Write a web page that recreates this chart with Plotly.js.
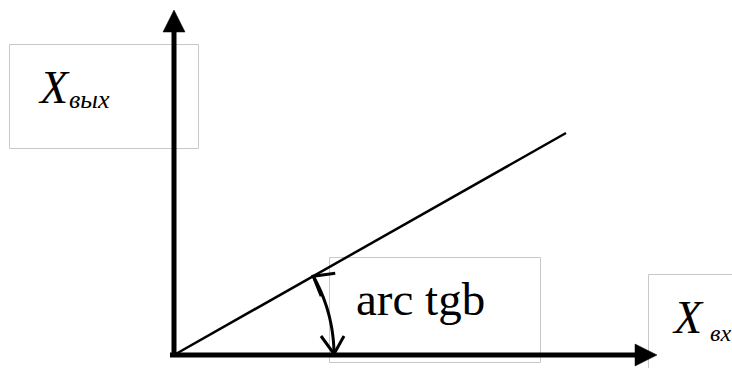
<!DOCTYPE html>
<html>
<head>
<meta charset="utf-8">
<script src="https://cdn.plot.ly/plotly-3.0.1.min.js"></script>
<style>html,body{margin:0;padding:0;background:#fff;}#chart{width:732px;height:368px;}</style>
</head>
<body>
<div id="chart"></div>
<script>
// Characteristic line X_вых = k * X_вх (schematic units)
var lineX = [0, 392];
var lineY = [0, 222];
// Axis extents (schematic units)
var axisXEnd = [483];
var axisYEnd = [345];
// Angle arc radius
var arcRadius = [160];
// Labels
var labelOut = ['X', 'вых'];
var labelIn = ['X', 'вх'];
var angleLabel = ['arc tgb'];

// layout frame: origin of the diagram at pixel (174,355)
var OX = 174, OY = 355, W = 732, H = 368;
function dx(px) { return px - OX; }
function dy(py) { return OY - py; }

var shapes = [];
function rect(x0, y0, x1, y1) {
  shapes.push({type: 'rect', xref: 'x', yref: 'y', layer: 'below',
    x0: dx(x0), x1: dx(x1), y0: dy(y0), y1: dy(y1),
    line: {color: '#c8c8c8', width: 1}, fillcolor: 'rgba(0,0,0,0)'});
}
rect(9.5, 44.5, 198.5, 148.5);
rect(329.5, 257.5, 540.5, 362.5);
rect(648.5, 274.5, 760, 400);

function path(d, w, fill) {
  shapes.push({type: 'path', xref: 'x', yref: 'y', layer: 'above', path: d,
    line: {color: '#000', width: w}, fillcolor: fill || 'rgba(0,0,0,0)'});
}
// axes
var head = 22, half = 11;
path('M -4,0 L ' + (axisXEnd[0] - head) + ',0', 5);
path('M ' + (axisXEnd[0] - head) + ',' + half + ' L ' + axisXEnd[0] + ',0 L ' + (axisXEnd[0] - head) + ',' + (-half) + ' Z', 0.5, '#000');
path('M 0,-2 L 0,' + (axisYEnd[0] - head), 5);
path('M ' + (-half) + ',' + (axisYEnd[0] - head) + ' L 0,' + axisYEnd[0] + ' L ' + half + ',' + (axisYEnd[0] - head) + ' Z', 0.5, '#000');

// arc between x-axis and characteristic line
var theta = Math.atan2(lineY[1], lineX[1]);
var r = arcRadius[0];
var pts = [];
for (var i = 0; i <= 40; i++) {
  var a = theta * i / 40;
  pts.push((r * Math.cos(a)).toFixed(2) + ',' + (r * Math.sin(a)).toFixed(2));
}
path('M ' + pts.join(' L '), 3);
// arrowheads (open)
var bx = r;
path('M ' + (bx - 13) + ',19 L ' + bx + ',1 L ' + (bx + 10) + ',19', 3);
var tx = r * Math.cos(theta), ty = r * Math.sin(theta);
path('M ' + (tx + 22) + ',' + (ty + 3) + ' L ' + tx + ',' + ty + ' L ' + (tx + 8) + ',' + (ty - 20), 3);

var serif = 'Liberation Serif';
function ann(text, pxl, pyc, size, italic) {
  var f = {family: serif, size: size, color: '#000'};
  if (italic) f.style = 'italic';
  return {xref: 'x', yref: 'y', x: dx(pxl), y: dy(pyc), xanchor: 'left', yanchor: 'middle',
    text: text, showarrow: false, borderpad: 0, font: f};
}
var annotations = [
  ann(labelOut[0], 37, 87, 46, true),
  ann(labelOut[1], 68, 99, 26, true),
  ann(angleLabel[0], 355, 299, 47, false),
  ann(labelIn[0], 671, 317, 46, true),
  ann(labelIn[1], 709, 333, 24, true)
];

var data = [{
  type: 'scatter', mode: 'lines', x: lineX, y: lineY,
  line: {color: '#000', width: 2.5}, hoverinfo: 'skip', showlegend: false
}];

var layout = {
  width: W, height: H, margin: {l: 0, r: 0, t: 0, b: 0},
  paper_bgcolor: '#fff', plot_bgcolor: '#fff', showlegend: false,
  xaxis: {range: [dx(0), dx(W)], visible: false, fixedrange: true},
  yaxis: {range: [dy(H), dy(0)], visible: false, fixedrange: true},
  shapes: shapes, annotations: annotations
};
Plotly.newPlot('chart', data, layout, {staticPlot: true, displayModeBar: false});
</script>
</body>
</html>
